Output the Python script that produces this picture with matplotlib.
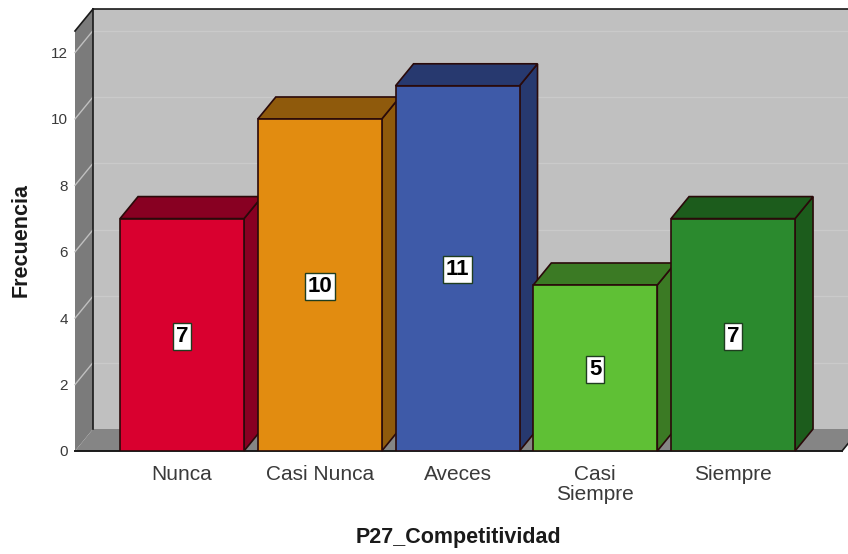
import matplotlib
matplotlib.use('Agg')
import matplotlib.pyplot as plt
from matplotlib.patches import Polygon

plt.rcParams['font.family'] = ['Liberation Sans', 'DejaVu Sans']

categorias = ['Nunca', 'Casi Nunca', 'Aveces', 'Casi\nSiempre', 'Siempre']
frecuencia = [7, 10, 11, 5, 7]
y_ticks = [0, 2, 4, 6, 8, 10, 12]
colores_frente = ['#d9002f', '#e28c10', '#3e5aa8', '#5fc035', '#2b8a2e']
colores_lado = ['#880022', '#8f5a0c', '#27396f', '#3b7a24', '#1c5c1c']

Y_MAX = 12.65
X_MIN, X_MAX = -0.777, 4.791
ANCHO = 0.90
DX = 18 / 137.75  # profundidad 3D en unidades de datos
DY = 22 / 33.2

fig = plt.figure(figsize=(8.48, 5.54), dpi=100)
ax = fig.add_axes([75 / 848, 103 / 554, 767 / 848, 420 / 554])
ax.set_xlim(X_MIN, X_MAX)
ax.set_ylim(0, Y_MAX)


def poly(ax, pts, color, edge='none', lw=1.2, z=1):
    ax.add_patch(Polygon(pts, closed=True, facecolor=color, edgecolor=edge,
                         linewidth=lw, zorder=z, clip_on=False))


# paredes
poly(ax, [(X_MIN + DX, DY), (X_MAX + DX, DY), (X_MAX + DX, Y_MAX + DY), (X_MIN + DX, Y_MAX + DY)], '#c0c0c0')
poly(ax, [(X_MIN, 0), (X_MIN + DX, DY), (X_MIN + DX, Y_MAX + DY), (X_MIN, Y_MAX)], '#7b7b7b')
poly(ax, [(X_MIN, 0), (X_MAX, 0), (X_MAX + DX, DY), (X_MIN + DX, DY)], '#858585')

for t in y_ticks[1:]:
    ax.plot([X_MIN + DX, X_MAX + DX], [t + DY, t + DY], color='#cacaca', lw=1, zorder=1.5, clip_on=False)
    ax.plot([X_MIN, X_MIN + DX], [t, t + DY], color='#c0c0c0', lw=1, zorder=1.5, clip_on=False)

borde = '#1a1a1a'
ax.plot([X_MIN + DX, X_MIN + DX], [DY, Y_MAX + DY], color=borde, lw=1.2, zorder=2, clip_on=False)
ax.plot([X_MIN + DX, X_MAX + DX], [Y_MAX + DY, Y_MAX + DY], color=borde, lw=1.2, zorder=2, clip_on=False)
ax.plot([X_MIN, X_MIN + DX], [Y_MAX, Y_MAX + DY], color=borde, lw=1.2, zorder=2, clip_on=False)
ax.plot([X_MIN, X_MAX], [0, 0], color=borde, lw=1.4, zorder=2, clip_on=False)
ax.plot([X_MAX, X_MAX + DX], [0, DY], color=borde, lw=1.2, zorder=2, clip_on=False)

# barras
for i, v in enumerate(frecuencia):
    x0 = i - ANCHO / 2
    x1 = i + ANCHO / 2
    z = 3 + i
    linea = '#2a0a0a'
    poly(ax, [(x1, 0), (x1 + DX, DY), (x1 + DX, v + DY), (x1, v)], colores_lado[i], linea, z=z)
    poly(ax, [(x0, v), (x1, v), (x1 + DX, v + DY), (x0 + DX, v + DY)], colores_lado[i], linea, z=z)
    ax.bar(i, v, width=ANCHO, color=colores_frente[i], edgecolor=linea, linewidth=1.2, zorder=z + 0.1)
    ax.annotate(str(v), (i, v / 2), xytext=(0, -1), textcoords='offset points', ha='center', va='center',
                fontsize=16, fontweight='bold', color='black', zorder=20,
                bbox=dict(boxstyle='square,pad=0.13', facecolor='white', edgecolor='#1f3d1f', linewidth=1))

for s in ax.spines.values():
    s.set_visible(False)
ax.patch.set_visible(False)
ax.set_xticks(range(len(categorias)))
ax.set_xticklabels(categorias, fontsize=15, color='#3a3a3a', linespacing=1.1)
ax.set_yticks(y_ticks)
ax.set_yticklabels(y_ticks, fontsize=11, color='#3a3a3a')
ax.tick_params(axis='both', length=0)
ax.tick_params(axis='x', pad=10)
ax.tick_params(axis='y', pad=5)

fig.text(21 / 848, 1 - 240 / 554, 'Frecuencia', rotation=90, ha='center', va='center',
         fontsize=15.5, fontweight='bold', color='#1a1a1a')
fig.text(458 / 848, 1 - 537 / 554, 'P27_Competitividad', ha='center', va='center',
         fontsize=15.5, fontweight='bold', color='#1a1a1a')

fig.savefig('out.png', dpi=100)
